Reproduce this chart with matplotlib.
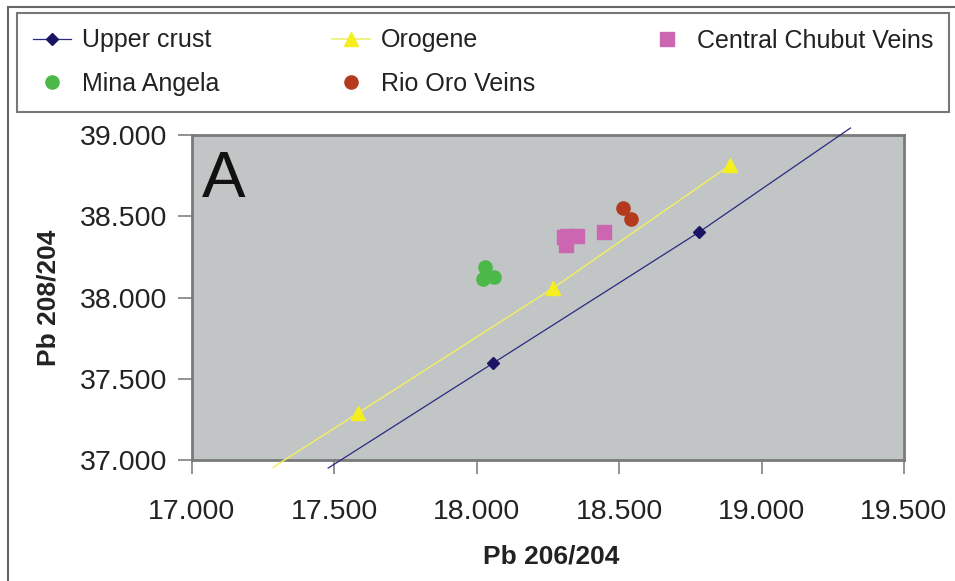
import matplotlib
matplotlib.use("Agg")
import matplotlib.pyplot as plt
from matplotlib.patches import Rectangle

plt.rcParams['font.family'] = ['Liberation Sans', 'DejaVu Sans']

# growth curves (first / last points run past the axes, no marker there)
upper_x = [17.478, 18.058, 18.781, 19.312]
upper_y = [36.950, 37.597, 38.403, 39.043]
orog_x = [17.285, 17.583, 18.268, 18.890]
orog_y = [36.955, 37.289, 38.058, 38.815]

# samples
chubut_x = [18.305, 18.318, 18.352, 18.312, 18.446]
chubut_y = [38.372, 38.380, 38.378, 38.325, 38.403]
angela_x = [18.030, 18.022, 18.061]
angela_y = [38.188, 38.114, 38.126]
rio_x = [18.514, 18.543]
rio_y = [38.551, 38.483]

xticks = [17.0, 17.5, 18.0, 18.5, 19.0, 19.5]
yticks = [37.0, 37.5, 38.0, 38.5, 39.0]

W, H = 955, 581
fig = plt.figure(figsize=(W / 100, H / 100), dpi=100)
ax = fig.add_axes([192 / W, 1 - 460 / H, 712 / W, 325 / H])
ax.set_facecolor('#c2c5c5')

l_up, = ax.plot(upper_x, upper_y, color='#2a2a80', lw=0.9, marker='D',
                markersize=6, markerfacecolor='#1b1464', markeredgecolor='#1b1464',
                markevery=[1, 2], clip_on=False, zorder=3)
l_or, = ax.plot(orog_x, orog_y, color='#eeee66', lw=1.1, marker='^',
                markersize=10, markerfacecolor='#f5ef1e', markeredgecolor='#f5ef1e',
                markevery=[1, 2, 3], clip_on=False, zorder=3)
l_ch, = ax.plot(chubut_x, chubut_y, ls='none', marker='s', markersize=9.5,
                color='#cc66b0', zorder=4)
l_an, = ax.plot(angela_x, angela_y, ls='none', marker='o', markersize=9.5,
                color='#4cb848', zorder=4)
l_ri, = ax.plot(rio_x, rio_y, ls='none', marker='o', markersize=9.5,
                color='#b43a1e', zorder=4)

ax.set_xlim(17.0, 19.5)
ax.set_ylim(37.0, 39.0)
ax.set_xticks(xticks)
ax.set_yticks(yticks)
ax.set_xticklabels(['%.3f' % v for v in xticks])
ax.set_yticklabels(['%.3f' % v for v in yticks])
ax.tick_params(axis='both', direction='out', length=10, width=1.2,
               color='#808080', labelsize=20.5, labelcolor='#222222')
ax.tick_params(axis='x', pad=18)
ax.tick_params(axis='y', pad=8)
for s in ax.spines.values():
    s.set_color('#7a7a7a')
    s.set_linewidth(2)

ax.set_xlabel('Pb 206/204', fontsize=19, fontweight='bold', color='#222222')
ax.xaxis.set_label_coords(0.504, -0.298)
ax.xaxis.label.set_va('center')
ax.set_ylabel('Pb 208/204', fontsize=19, fontweight='bold', color='#222222')
ax.yaxis.set_label_coords(-0.202, 0.5)
ax.yaxis.label.set_va('center')

ax.text(0.014, 0.955, 'A', transform=ax.transAxes, fontsize=47,
        ha='left', va='top', color='#111111')

# legend filled column-wise: col1, col2, col3
leg = fig.legend([l_up, l_an, l_or, l_ri, l_ch],
                 ['Upper crust', 'Mina Angela', 'Orogene', 'Rio Oro Veins',
                  'Central Chubut Veins'],
                 ncol=3, loc='upper left', bbox_to_anchor=(17 / W, 1 - 13 / H),
                 borderaxespad=0, fontsize=18, handlelength=1.55,
                 handletextpad=0.42, columnspacing=4.5, labelspacing=0.78,
                 borderpad=0.62, fancybox=False, framealpha=1)
leg.get_frame().set_edgecolor('#777777')
leg.get_frame().set_linewidth(1.5)
for t in leg.get_texts():
    t.set_color('#222222')

# chart area border (right/bottom run off the picture)
fig.patches.append(Rectangle((8 / W, -0.05), 1.1, 1 - 7 / H + 0.05,
                             transform=fig.transFigure, fill=False,
                             edgecolor='#666666', linewidth=1.5))

fig.savefig('out.png', dpi=100)
